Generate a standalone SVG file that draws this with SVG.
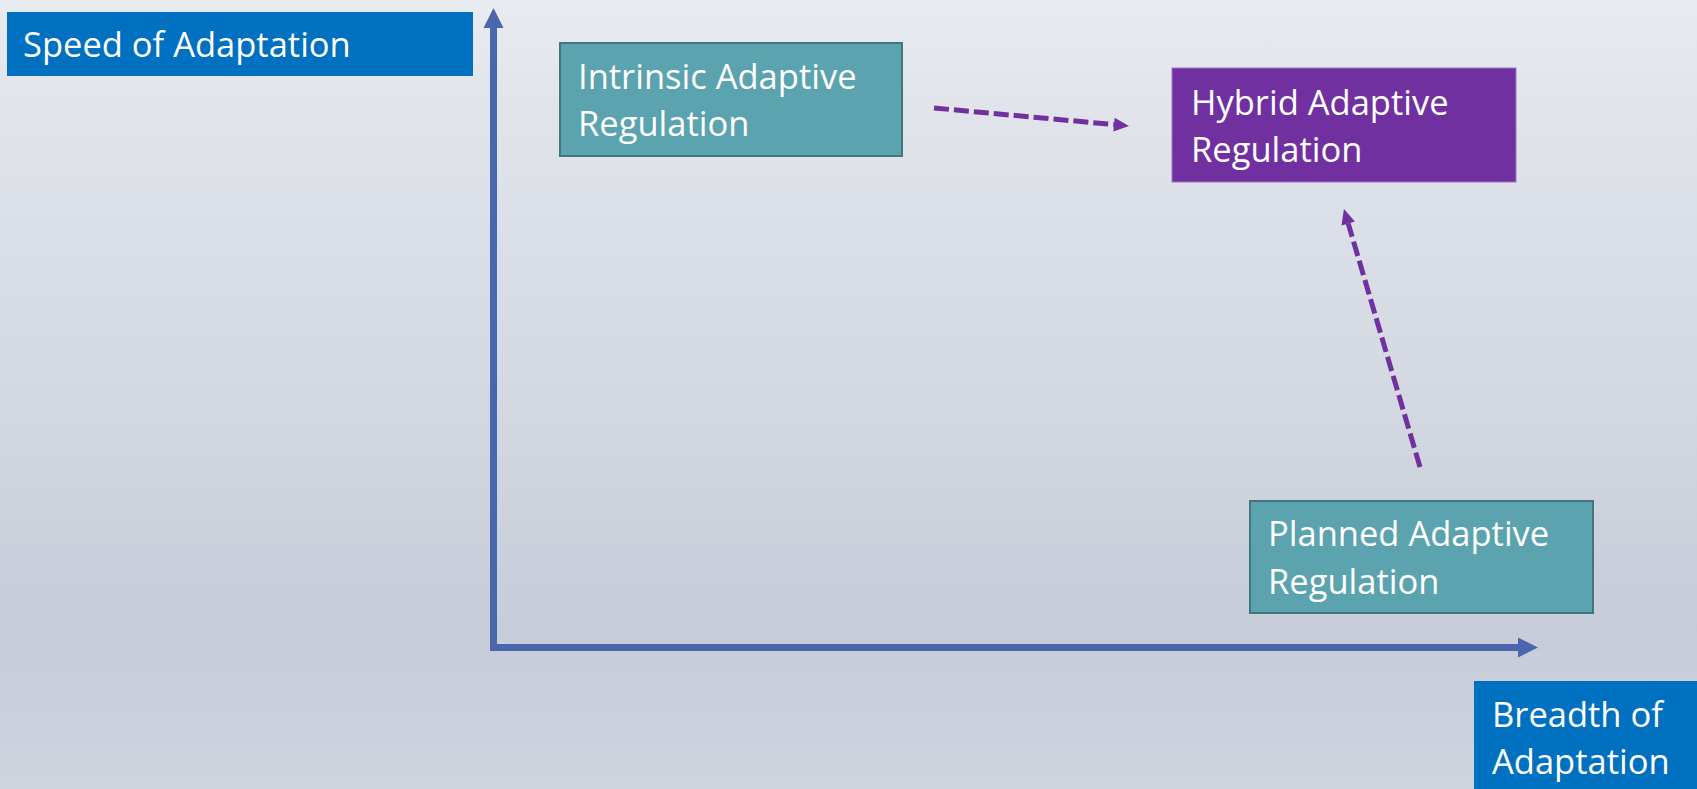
<svg xmlns="http://www.w3.org/2000/svg" width="1697" height="789" viewBox="0 0 1697 789">
  <defs>
    <linearGradient id="bg" gradientUnits="userSpaceOnUse" x1="0" y1="0" x2="0" y2="789">
      <stop offset="0" stop-color="#e8ebf0"/>
      <stop offset="0.13" stop-color="#e1e4eb"/>
      <stop offset="0.5" stop-color="#d3d8e1"/>
      <stop offset="0.8" stop-color="#c6ccd8"/>
      <stop offset="1" stop-color="#cfd5df"/>
    </linearGradient>
    <marker id="axisHead" markerUnits="userSpaceOnUse" markerWidth="22" markerHeight="22" refX="0" refY="11" orient="auto" overflow="visible">
      <path d="M0,1 L20,11 L0,21 z" fill="#4a67ad"/>
    </marker>
    <marker id="dashHead" markerUnits="userSpaceOnUse" markerWidth="16" markerHeight="16" refX="0" refY="8" orient="auto" overflow="visible">
      <path d="M0,1 L15,8 L0,15 z" fill="#7030a0"/>
    </marker>
  </defs>
  <style>
    .lbl { font-family: "Open Sans", "Noto Sans", "Liberation Sans", sans-serif; font-size: 34.5px; fill: #ffffff; }
    .blue { fill: #0070c0; }
    .teal { fill: #5ba3ae; stroke: #41767f; stroke-width: 2; }
    .purple { fill: #7030a0; stroke: #9b78c2; stroke-width: 1; }
    .axis { stroke: #4a67ad; stroke-width: 7; fill: none; marker-end: url(#axisHead); }
    .dash { stroke: #7030a0; stroke-width: 5; fill: none; stroke-dasharray: 15 5; marker-end: url(#dashHead); }
  </style>
  <rect x="0" y="0" width="1697" height="789" fill="url(#bg)"/>

  <g id="connectors">
    <line class="axis" x1="493.5" y1="651" x2="493.5" y2="28"/>
    <line class="axis" x1="490" y1="647.5" x2="1518" y2="647.5"/>
    <line class="dash" x1="934" y1="108" x2="1114" y2="124.6"/>
    <line class="dash" x1="1420" y1="467" x2="1348.2" y2="223.4"/>
  </g>

  <g id="speed">
    <rect class="blue" x="7" y="12" width="466" height="64"/>
    <text class="lbl" x="23" y="57">Speed of Adaptation</text>
  </g>

  <g id="breadth">
    <rect class="blue" x="1474" y="681" width="223" height="108"/>
    <text class="lbl" x="1492" y="727">Breadth of</text>
    <text class="lbl" x="1492" y="774">Adaptation</text>
  </g>

  <g id="intrinsic">
    <rect class="teal" x="560" y="43" width="342" height="113"/>
    <text class="lbl" x="578" y="89">Intrinsic Adaptive</text>
    <text class="lbl" x="578" y="136">Regulation</text>
  </g>

  <g id="hybrid">
    <rect class="purple" x="1172" y="68" width="344" height="114"/>
    <text class="lbl" x="1191" y="115">Hybrid Adaptive</text>
    <text class="lbl" x="1191" y="162">Regulation</text>
  </g>

  <g id="planned">
    <rect class="teal" x="1250" y="501" width="343" height="112"/>
    <text class="lbl" x="1268" y="546">Planned Adaptive</text>
    <text class="lbl" x="1268" y="594">Regulation</text>
  </g>
</svg>
